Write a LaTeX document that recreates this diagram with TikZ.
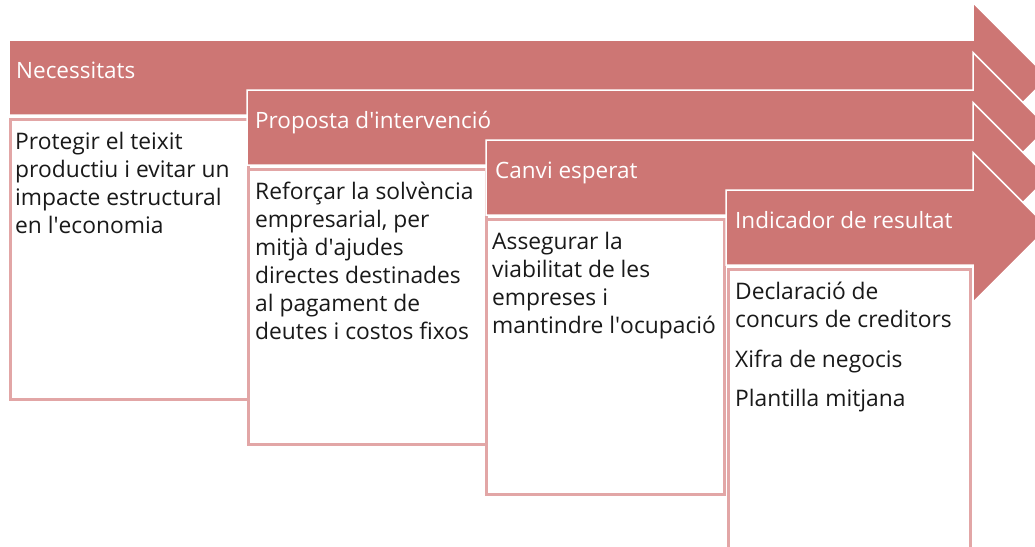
\documentclass[tikz,border=0pt]{standalone}
\usepackage{fontspec}
\setmainfont{Open Sans}
\usetikzlibrary{positioning}
\definecolor{arrowred}{RGB}{205,118,116}
\definecolor{boxpink}{RGB}{226,166,166}

\begin{document}
\begin{tikzpicture}[x=1pt,y=-1pt]
\tikzstyle{every node}+=[inner sep=0pt]
\tikzstyle{bar}=[fill=arrowred, draw=white, line width=1.5pt, line join=miter]
\tikzstyle{head}=[anchor=base west, text=white, font=\fontsize{22.5}{27}\selectfont]
\tikzstyle{stepbox}=[draw=boxpink, line width=3pt, fill=white, anchor=north west, minimum width=238pt, minimum height=275pt]
\tikzstyle{boxtext}=[anchor=north west, align=left, text=black!90, font=\fontsize{22.8}{28}\selectfont, execute at begin node=\strut]
\useasboundingbox (0,0) rectangle (1035,546);
\draw [bar] (9,40) -- (973,40) -- (973,2.5) -- (1048,77.5) -- (973,152.5) -- (973,115) -- (9,115) -- cycle;
\node (need) at (16,78) [head] {Necessitats};
\node (needbox) at (9,118) [stepbox, minimum height=280pt] {};
\node (needtext) at ([xshift=6pt,yshift=-14pt]needbox.north west) [boxtext] {Protegir el teixit\\productiu i evitar un\\impacte estructural\\en l\textquotesingle economia};
\draw [bar] (247,90) -- (973,90) -- (973,52.5) -- (1048,127.5) -- (973,202.5) -- (973,165) -- (247,165) -- cycle;
\node (plan) at (255,128) [head] {Proposta d\textquotesingle intervenció};
\node (planbox) at (247,168) [stepbox] {};
\node (plantext) at ([xshift=8pt,yshift=-14pt]planbox.north west) [boxtext] {Reforçar la solvència\\empresarial, per\\mitjà d\textquotesingle ajudes\\directes destinades\\al pagament de\\deutes i costos fixos};
\draw [bar] (486,140) -- (973,140) -- (973,102.5) -- (1048,177.5) -- (973,252.5) -- (973,215) -- (486,215) -- cycle;
\node (change) at (495,178) [head] {Canvi esperat};
\node (changebox) at (485,218) [stepbox] {};
\node (changetext) at ([xshift=7pt,yshift=-14pt]changebox.north west) [boxtext] {Assegurar la\\viabilitat de les\\empreses i\\mantindre l\textquotesingle ocupació};
\draw [bar] (726,190) -- (973,190) -- (973,152.5) -- (1048,227.5) -- (973,302.5) -- (973,265) -- (726,265) -- cycle;
\node (result) at (735,228) [head] {Indicador de resultat};
\node (resultbox) at (727,268) [stepbox, minimum width=242pt, minimum height=282pt] {};
\node (resulttext) at ([xshift=8pt,yshift=-14pt]resultbox.north west) [boxtext] {Declaració de\\concurs de creditors\\[12pt]Xifra de negocis\\[11pt]Plantilla mitjana};
\end{tikzpicture}
\end{document}
